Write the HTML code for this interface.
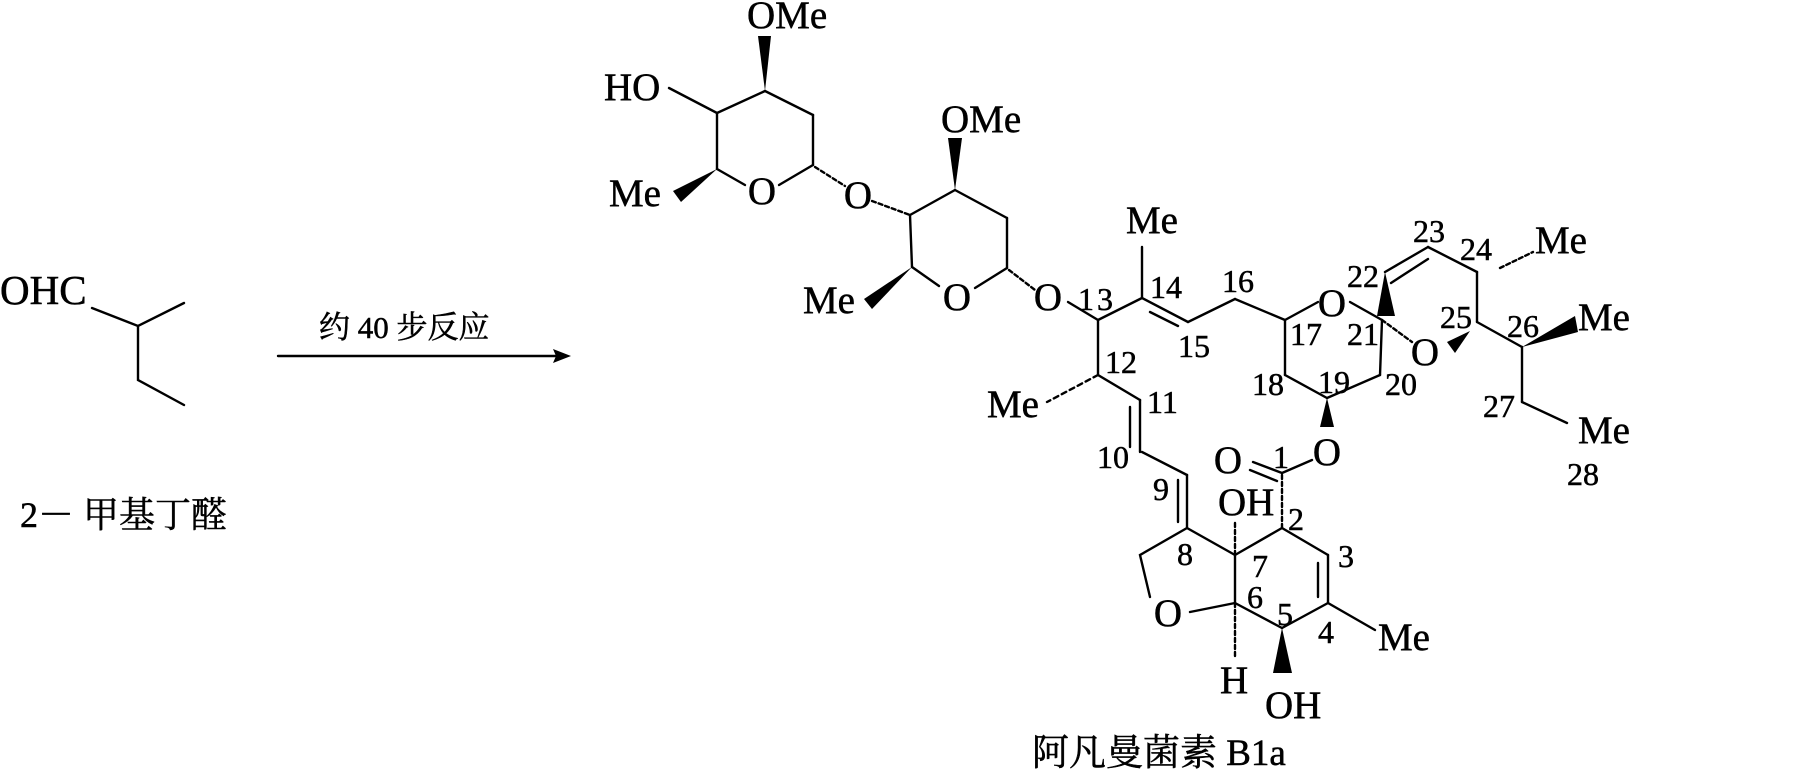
<!DOCTYPE html>
<html><head><meta charset="utf-8"><style>
html,body{margin:0;padding:0;background:#fff;}
svg{display:block;}
text{font-family:"Liberation Serif","Noto Serif CJK SC",serif;fill:#000;stroke:#000;stroke-width:0.5;}
.a{font-size:39px;}
.n{font-size:32px;}
.c{font-size:36px;font-family:"Liberation Serif","Noto Serif CJK SC","Noto Sans CJK SC",serif;}
</style></head><body>
<svg width="1804" height="769" viewBox="0 0 1804 769" xmlns="http://www.w3.org/2000/svg">
<g stroke="#000" stroke-width="2.4" fill="none" stroke-linecap="round">
<polyline points="92,308 138,326 184,303"/>
<polyline points="138,326 138,380 184,405"/>
<line x1="278" y1="356" x2="560" y2="356"/>
<line x1="669" y1="88" x2="717" y2="113"/>
<line x1="717" y1="113" x2="765" y2="91"/>
<line x1="765" y1="91" x2="813" y2="115"/>
<line x1="813" y1="115" x2="813" y2="165"/>
<line x1="813" y1="165" x2="779" y2="185"/>
<line x1="745" y1="185" x2="717" y2="169"/>
<line x1="717" y1="169" x2="717" y2="113"/>
<line x1="815" y1="167" x2="845" y2="186" stroke-dasharray="4 3"/>
<line x1="872" y1="201" x2="910" y2="215" stroke-dasharray="4 3"/>
<line x1="910" y1="215" x2="955" y2="190"/>
<line x1="955" y1="190" x2="1007" y2="218"/>
<line x1="1007" y1="218" x2="1007" y2="268"/>
<line x1="1007" y1="268" x2="975" y2="288"/>
<line x1="939" y1="286" x2="912" y2="267"/>
<line x1="912" y1="267" x2="910" y2="215"/>
<line x1="1009" y1="270" x2="1035" y2="290" stroke-dasharray="4 3"/>
<line x1="1068" y1="302" x2="1098" y2="320"/>
<line x1="1098" y1="320" x2="1142" y2="298"/>
<line x1="1142" y1="298" x2="1142" y2="247"/>
<line x1="1142" y1="298" x2="1188" y2="322"/>
<line x1="1150" y1="312" x2="1178" y2="326"/>
<line x1="1188" y1="322" x2="1235" y2="299"/>
<line x1="1235" y1="299" x2="1285" y2="320"/>
<line x1="1285" y1="320" x2="1318" y2="302"/>
<line x1="1285" y1="320" x2="1285" y2="375"/>
<line x1="1285" y1="375" x2="1327" y2="398"/>
<line x1="1327" y1="398" x2="1380" y2="375"/>
<line x1="1380" y1="375" x2="1382" y2="320"/>
<line x1="1350" y1="302" x2="1382" y2="320"/>
<line x1="1382" y1="320" x2="1412" y2="342" stroke-dasharray="4 3"/>
<line x1="1385" y1="272" x2="1428" y2="247"/>
<line x1="1391" y1="283" x2="1428" y2="259"/>
<line x1="1428" y1="247" x2="1477" y2="272"/>
<line x1="1500" y1="268" x2="1533" y2="252" stroke-dasharray="4 3"/>
<line x1="1477" y1="272" x2="1477" y2="322"/>
<line x1="1477" y1="322" x2="1522" y2="347"/>
<line x1="1522" y1="347" x2="1522" y2="402"/>
<line x1="1522" y1="402" x2="1567" y2="423"/>
<line x1="1312" y1="460" x2="1282" y2="473"/>
<line x1="1282" y1="473" x2="1253" y2="462"/>
<line x1="1277" y1="481" x2="1250" y2="470"/>
<line x1="1282" y1="475" x2="1282" y2="528" stroke-dasharray="4 3"/>
<line x1="1282" y1="528" x2="1328" y2="555"/>
<line x1="1328" y1="555" x2="1328" y2="603"/>
<line x1="1318" y1="563" x2="1318" y2="597"/>
<line x1="1328" y1="603" x2="1375" y2="630"/>
<line x1="1328" y1="603" x2="1282" y2="628"/>
<line x1="1282" y1="628" x2="1235" y2="603"/>
<line x1="1235" y1="603" x2="1235" y2="657" stroke-dasharray="4 3"/>
<line x1="1235" y1="603" x2="1190" y2="612"/>
<polyline points="1150,597 1140,555 1187,528"/>
<line x1="1187" y1="528" x2="1235" y2="555"/>
<line x1="1235" y1="555" x2="1235" y2="522" stroke-dasharray="4 3"/>
<line x1="1235" y1="555" x2="1282" y2="528"/>
<line x1="1235" y1="555" x2="1235" y2="603"/>
<line x1="1187" y1="528" x2="1187" y2="475"/>
<line x1="1178" y1="480" x2="1178" y2="522"/>
<line x1="1187" y1="475" x2="1142" y2="452"/>
<line x1="1140" y1="452" x2="1140" y2="400"/>
<line x1="1130" y1="407" x2="1130" y2="447"/>
<line x1="1140" y1="400" x2="1098" y2="375"/>
<line x1="1098" y1="375" x2="1098" y2="320"/>
<line x1="1098" y1="375" x2="1047" y2="402" stroke-dasharray="5 4"/>
</g>
<g fill="#000" stroke="none">
<polygon points="571,356 553,349 556,356 553,363"/>
<polygon points="765,91 758,36 771,36"/>
<polygon points="717,169 673,191 681,202"/>
<polygon points="955,190 948,138 962,138"/>
<polygon points="912,267 864,299 872,309"/>
<polygon points="1385,272 1377,316 1395,316"/>
<polygon points="1470,331 1447,342 1455,353"/>
<polygon points="1522,347 1575,316 1578,332"/>
<polygon points="1327,398 1320,427 1334,427"/>
<polygon points="1282,628 1273,673 1292,673"/>
</g>
<text class="a" x="0" y="304" style="font-size:41px">OHC</text>
<text class="c" x="20" y="527">2－ 甲基丁醛</text>
<text class="c" x="319" y="338" style="font-size:31px">约 40 步反应</text>
<text class="a" x="747" y="28">OMe</text>
<text class="a" x="604" y="100">HO</text>
<text class="a" x="609" y="206">Me</text>
<text class="a" x="762" y="204" text-anchor="middle">O</text>
<text class="a" x="858" y="208" text-anchor="middle">O</text>
<text class="a" x="941" y="132">OMe</text>
<text class="a" x="803" y="313">Me</text>
<text class="a" x="957" y="310" text-anchor="middle">O</text>
<text class="a" x="1048" y="310" text-anchor="middle">O</text>
<text class="n" x="1078" y="310">1</text><text class="n" x="1097" y="310">3</text>
<text class="a" x="1126" y="233">Me</text>
<text class="n" x="1150" y="298">14</text>
<text class="n" x="1178" y="357">15</text>
<text class="n" x="1222" y="292">16</text>
<text class="n" x="1290" y="345">17</text>
<text class="a" x="1332" y="316" text-anchor="middle">O</text>
<text class="n" x="1252" y="395">18</text>
<text class="n" x="1318" y="393">19</text>
<text class="n" x="1385" y="395">20</text>
<text class="n" x="1347" y="345">21</text>
<text class="n" x="1347" y="287">22</text>
<text class="n" x="1413" y="242">23</text>
<text class="n" x="1460" y="260">24</text>
<text class="a" x="1535" y="253">Me</text>
<text class="n" x="1440" y="328">25</text>
<text class="a" x="1425" y="365" text-anchor="middle">O</text>
<text class="n" x="1507" y="337">26</text>
<text class="a" x="1578" y="330">Me</text>
<text class="n" x="1483" y="417">27</text>
<text class="a" x="1578" y="443">Me</text>
<text class="n" x="1567" y="485">28</text>
<text class="n" x="1105" y="373">12</text>
<text class="a" x="987" y="417">Me</text>
<text class="n" x="1147" y="413">11</text>
<text class="n" x="1097" y="468">10</text>
<text class="n" x="1153" y="500">9</text>
<text class="n" x="1177" y="565">8</text>
<text class="n" x="1252" y="577">7</text>
<text class="n" x="1247" y="608">6</text>
<text class="n" x="1277" y="625">5</text>
<text class="n" x="1318" y="643">4</text>
<text class="n" x="1338" y="567">3</text>
<text class="n" x="1288" y="530">2</text>
<text class="n" x="1273" y="468">1</text>
<text class="a" x="1218" y="515">OH</text>
<text class="a" x="1228" y="473" text-anchor="middle">O</text>
<text class="a" x="1327" y="465" text-anchor="middle">O</text>
<text class="a" x="1378" y="650">Me</text>
<text class="a" x="1265" y="718">OH</text>
<text class="a" x="1220" y="693">H</text>
<text class="a" x="1168" y="626" text-anchor="middle">O</text>
<text class="c" x="1032" y="765" style="font-size:37px">阿凡曼菌素 B1a</text>
</svg>
</body></html>
